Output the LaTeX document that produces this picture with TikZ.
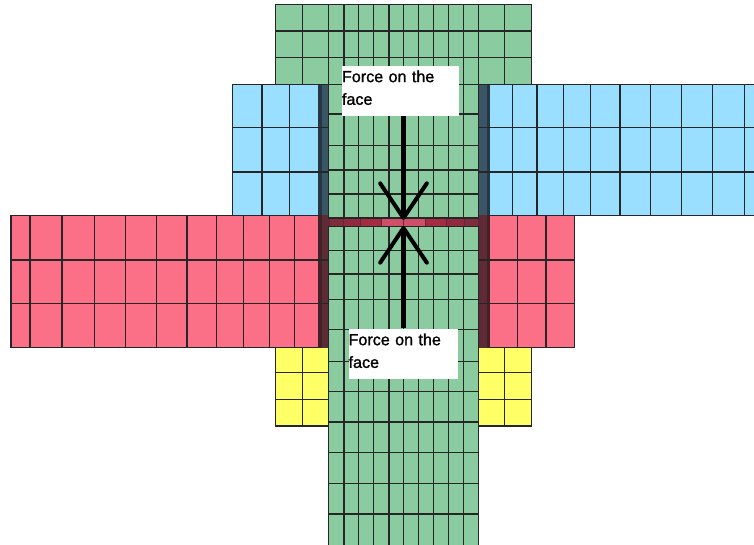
\documentclass[tikz,border=0pt]{standalone}
\usepackage{fontspec}
\setmainfont{Liberation Sans}
\newfontfamily\forcefont[FakeBold=1.2]{Liberation Sans}
\usetikzlibrary{arrows.meta}
\definecolor{meshgreen}{HTML}{8ACB9F}
\definecolor{meshblue}{HTML}{9ADFFF}
\definecolor{meshred}{HTML}{FB7086}
\definecolor{meshyellow}{HTML}{FFFF66}
\definecolor{barblue}{HTML}{3A5566}
\definecolor{barblueedge}{HTML}{243742}
\definecolor{barred}{HTML}{5E2A35}
\definecolor{barrededge}{HTML}{402228}
\definecolor{faceA}{HTML}{7F2D3E}
\definecolor{faceB}{HTML}{912A3E}
\definecolor{faceC}{HTML}{A62B42}
\definecolor{faceD}{HTML}{D04F68}
% fill, x0, y0, x1, y1, inner verticals, inner horizontals
\newcommand{\meshblock}[7]{
  \fill[#1] (#2,#3) rectangle (#4,#5);
  \foreach \gx in {#6} \draw[meshline] (\gx,#3) -- (\gx,#5);
  \foreach \gy in {#7} \draw[meshline] (#2,\gy) -- (#4,\gy);
  \draw[meshline] (#2,#3) rectangle (#4,#5);
}
\begin{document}
\begin{tikzpicture}[
  x=0.75pt, y=-0.75pt,
  meshline/.style={draw=black!85, line width=0.9pt},
  forcebox/.style={fill=white, anchor=north west, inner sep=0pt, text width=#1, align=left, font=\forcefont\fontsize{12.1}{17}\selectfont},
  forcearr/.style={line width=3.7pt, -{Straight Barb[length=26pt, width=35pt, line width=3pt, round]}},
]
  \useasboundingbox (0,0) rectangle (754,545);

  % Side blocks
  \meshblock{meshblue}{232.5}{84.3}{318.5}{215.3}{262,289.3}{127.3,172}
  \meshblock{meshblue}{489.7}{84.3}{760}{215.3}{512.7,537,563.3,590.7,620,650.3,681.3,712.3,744.7}{127.3,172}
  \meshblock{meshred}{11}{215.3}{319}{347.7}{30,62,94.3,125.7,156.7,187,216.3,243.3,269.7,294.3}{260,303.3}
  \meshblock{meshred}{489.7}{215.3}{574.7}{347.7}{517.5,546}{260,303.3}
  \meshblock{meshyellow}{275.5}{347.7}{329}{426}{302.3}{372.7,399.3}
  \meshblock{meshyellow}{478}{347.7}{531.5}{426}{504.7}{372.7,399.3}

  % Dark bars beside the face
  \fill[barblue] (318,84.3) rectangle (329,215.3);
  \fill[barblueedge] (318,84.3) rectangle (321.7,215.3);
  \fill[barblue] (478,84.3) rectangle (486.5,215.3);
  \fill[barblueedge] (486.5,84.3) rectangle (490,215.3);
  \fill[barred] (318,215.3) rectangle (329,347.7);
  \fill[barrededge] (318,215.3) rectangle (321.7,347.7);
  \fill[barred] (478,215.3) rectangle (486.5,347.7);
  \fill[barrededge] (486.5,215.3) rectangle (490,347.7);
  \foreach \gy in {127.3,172} {
    \draw[meshline] (318,\gy) -- (329,\gy);
    \draw[meshline] (478,\gy) -- (490,\gy);
  }
  \foreach \gy in {260,303.3} {
    \draw[meshline] (318,\gy) -- (329,\gy);
    \draw[meshline] (478,\gy) -- (490,\gy);
  }

  % Green column
  \meshblock{meshgreen}{275.5}{4.5}{531.5}{84.3}{302.3,328.7,344,358.7,373.3,389,403.3,418.7,433.7,448.3,463.3,478.3,504.7}{31,57.7}
  \meshblock{meshgreen}{328.7}{84.3}{478.3}{218}{344,358.7,373.3,389,403.3,418.7,433.7,448.3,463.3}{114,145.7,170,194}
  \meshblock{meshgreen}{328.7}{226.7}{478.3}{550}{344,358.7,373.3,389,403.3,418.7,433.7,448.3,463.3}{250.7,274,299.3,329.3,361.3,391.3,422,452.3,483.7,514}

  % Face cells
  \foreach \xa/\xb/\cellcol in {329/343/faceA, 343/360.7/faceB, 360.7/381.3/faceC, 381.3/403.3/faceD, 403.3/425.7/faceD, 425.7/446.7/faceC, 446.7/464/faceB, 464/478/faceA} {
    \fill[\cellcol] (\xa,218) rectangle (\xb,226.7);
    \draw[barred, line width=0.6pt] (\xa,218) -- (\xa,226.7);
  }
  \draw[black!85, line width=0.9pt] (328.7,218) -- (478.3,218);
  \draw[black!85, line width=0.9pt] (328.7,226.7) -- (478.3,226.7);

  % Force labels
  \node[forcebox=88pt, minimum height=37.5pt] (ftop) at (341.7,65.7) {Force on the\\face\\[-12pt]\mbox{}};
  \node[forcebox=82pt, minimum height=38.2pt] (fbot) at (348.3,328.3) {Force on the\\face\\[-12pt]\mbox{}};

  % Forces
  \coordinate (tiptop) at (403.5,220);
  \coordinate (tipbot) at (403.5,226);
  \draw[forcearr] (ftop.south -| tiptop) -- (tiptop);
  \draw[forcearr] (fbot.north -| tipbot) -- (tipbot);
\end{tikzpicture}
\end{document}
